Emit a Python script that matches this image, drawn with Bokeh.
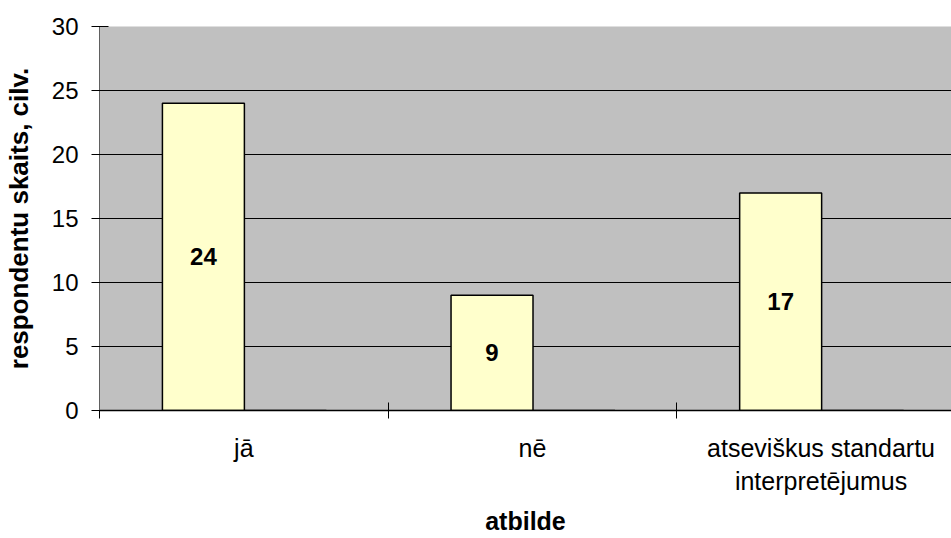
from bokeh.plotting import figure
from bokeh.models import Range1d, FixedTicker, ColumnDataSource
from bokeh.core.properties import value
from bokeh.embed import file_html
from bokeh.resources import INLINE

categories = ["jā", "nē", "atseviškus standartu\ninterpretējumus"]
values = [24, 9, 17]
second_series = [0, 0, 0]
y_ticks = [0, 5, 10, 15, 20, 25, 30]

FONT = "Liberation Sans"
n = len(categories)
bar_w = 0.284
off1 = 0.218 + bar_w / 2
off2 = off1 + bar_w

src = ColumnDataSource(dict(
    x1=[i + off1 for i in range(n)],
    x2=[i + off2 for i in range(n)],
    v=values,
    z=second_series,
    half=[v / 2 for v in values],
    lab=[str(v) for v in values],
))

p = figure(width=951, height=538, output_backend="svg", toolbar_location=None,
           x_range=Range1d(0, 854 / 289.3), y_range=Range1d(0, 30),
           min_border_left=97, min_border_top=26, min_border_right=0,
           min_border_bottom=128)
p.background_fill_color = "#C0C0C0"
p.border_fill_color = "white"
p.outline_line_color = None

p.vbar(x="x1", top="v", bottom=0, width=bar_w, source=src,
       fill_color="#FFFFCC", line_color="black", line_width=1.5)
p.vbar(x="x2", top="z", bottom=0, width=bar_w, source=src,
       fill_color="#FFFFCC", line_color="black", line_width=1.5)
p.text(x="x1", y="half", text="lab", source=src, text_font=value(FONT),
       text_font_size="24px", text_font_style="bold", text_align="center",
       text_baseline="middle", text_color="black")

# y axis
p.yaxis.ticker = FixedTicker(ticks=y_ticks)
p.yaxis.major_tick_in = 9
p.yaxis.major_tick_out = 8
p.yaxis.minor_tick_line_color = None
p.yaxis.major_tick_line_color = "black"
p.yaxis.axis_line_color = "#606060"
p.yaxis.major_label_text_font = FONT
p.yaxis.major_label_text_font_size = "24px"
p.yaxis.major_label_text_color = "black"
p.yaxis.major_label_standoff = 13
p.yaxis.axis_label = "respondentu skaits, cilv."
p.yaxis.axis_label_text_font = FONT
p.yaxis.axis_label_text_font_size = "26px"
p.yaxis.axis_label_text_font_style = "bold"
p.yaxis.axis_label_text_color = "black"
p.yaxis.axis_label_standoff = 15

# x axis
centers = [i + 0.5 for i in range(n)]
p.xaxis.ticker = FixedTicker(ticks=centers, minor_ticks=list(range(n + 1)))
p.xaxis.major_label_overrides = {c: lab for c, lab in zip(centers, categories)}
p.xaxis.major_tick_line_color = None
p.xaxis.major_tick_in = 0
p.xaxis.major_tick_out = 0
p.xaxis.minor_tick_in = 8
p.xaxis.minor_tick_out = 8
p.xaxis.minor_tick_line_color = "black"
p.xaxis.axis_line_color = "black"
p.xaxis.axis_line_width = 1.5
p.xaxis.major_label_text_font = FONT
p.xaxis.major_label_text_font_size = "25px"
p.xaxis.major_label_text_color = "black"
p.xaxis.major_label_standoff = 15
p.xaxis.axis_label = "atbilde"
p.xaxis.axis_label_text_font = FONT
p.xaxis.axis_label_text_font_size = "25px"
p.xaxis.axis_label_text_font_style = "bold"
p.xaxis.axis_label_text_color = "black"
p.xaxis.axis_label_standoff = 9

p.xgrid.grid_line_color = None
p.ygrid.ticker = FixedTicker(ticks=[5, 10, 15, 20, 25])
p.ygrid.grid_line_color = "black"
p.ygrid.grid_line_width = 1

open("out.html", "w").write(file_html(p, INLINE))
